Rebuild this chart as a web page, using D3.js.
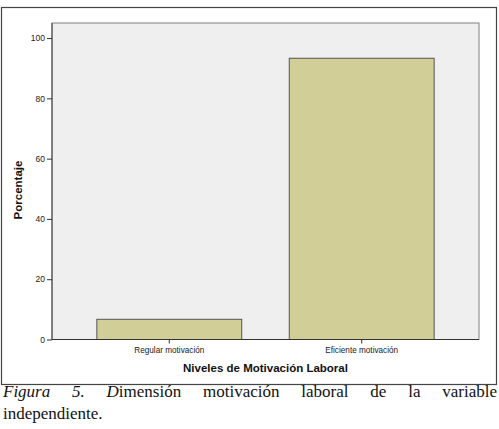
<!DOCTYPE html>
<html>
<head>
<meta charset="utf-8">
<script src="https://cdn.jsdelivr.net/npm/d3@7"></script>
<style>
  html, body { margin: 0; padding: 0; background: #fff; }
  svg { display: block; }
</style>
</head>
<body>
<svg id="chart" width="499" height="429"></svg>
<script>
// ---- data ----
const categories = ["Regular motivación", "Eficiente motivación"];
const values = [6.7, 93.3];
const yTicks = [0, 20, 40, 60, 80, 100];
const xTitle = "Niveles de Motivación Laboral";
const yTitle = "Porcentaje";
const captionWords = [
  [["Figura", true]], [["5.", true]], [["D", true], ["imensión", false]],
  [["motivación", false]], [["laboral", false]], [["de", false]], [["la", false]], [["variable", false]]
];
const captionLine2 = "independiente.";

// ---- layout ----
const svg = d3.select("#chart");
const plot = { left: 52, right: 479, top: 23, bottom: 339.5 };

svg.append("rect").attr("x", 1.5).attr("y", 7.5).attr("width", 495).attr("height", 377)
  .attr("fill", "#fff").attr("stroke", "#444").attr("stroke-width", 1.2);

const x = d3.scaleBand().domain(categories).range([plot.left, plot.right])
  .paddingInner(0.247).paddingOuter(0.233);
const y = d3.scaleLinear().domain([0, 105]).range([plot.bottom, plot.top]);

svg.append("rect").attr("x", plot.left).attr("y", plot.top)
  .attr("width", plot.right - plot.left).attr("height", plot.bottom - plot.top)
  .attr("fill", "#efefef").attr("stroke", "#808080").attr("stroke-width", 1);

svg.selectAll("rect.bar").data(values).join("rect").attr("class", "bar")
  .attr("x", (d, i) => x(categories[i]))
  .attr("y", d => y(d))
  .attr("width", x.bandwidth())
  .attr("height", d => y(0) - y(d))
  .attr("fill", "#d2ce98").attr("stroke", "#555").attr("stroke-width", 1);

// y axis
const yAxis = svg.append("g").attr("transform", `translate(${plot.left},0)`)
  .call(d3.axisLeft(y).tickValues(yTicks).tickSize(5).tickPadding(2).tickFormat(d3.format("d")));
yAxis.select(".domain").attr("d", `M0,${plot.top}V${plot.bottom}`).attr("stroke", "#555").attr("stroke-width", 1.2);
yAxis.selectAll(".tick line").attr("stroke", "#333");
yAxis.selectAll(".tick text").attr("font-family", "Liberation Sans, Arial, sans-serif")
  .attr("font-size", 8.5).attr("fill", "#222");

// x axis
const xAxis = svg.append("g").attr("transform", `translate(0,${plot.bottom})`)
  .call(d3.axisBottom(x).tickSize(4).tickPadding(4));
xAxis.select(".domain").attr("d", `M${plot.left},0H${plot.right}`).attr("stroke", "#333").attr("stroke-width", 1.2);
xAxis.selectAll(".tick line").attr("stroke", "#333");
xAxis.selectAll(".tick text").attr("font-family", "Liberation Sans, Arial, sans-serif")
  .attr("font-size", 8.2).attr("fill", "#222");

// axis titles
svg.append("text").attr("x", 265.5).attr("y", 372).attr("text-anchor", "middle")
  .attr("font-family", "Liberation Sans, Arial, sans-serif").attr("font-weight", "bold")
  .attr("font-size", 11.5).attr("fill", "#111").text(xTitle);
svg.append("text").attr("transform", "translate(22,190) rotate(-90)").attr("text-anchor", "middle")
  .attr("font-family", "Liberation Sans, Arial, sans-serif").attr("font-weight", "bold")
  .attr("font-size", 11.5).attr("fill", "#111").text(yTitle);

// caption (line 1 justified)
const capFont = "Liberation Serif, Times New Roman, serif";
const capSize = 17;
const lineStart = 3, lineEnd = 497;
const wordNodes = captionWords.map(segs => {
  const t = svg.append("text").attr("y", 397).attr("font-family", capFont)
    .attr("font-size", capSize).attr("fill", "#111");
  segs.forEach(([s, it]) => t.append("tspan").attr("font-style", it ? "italic" : "normal").text(s));
  return t;
});
const widths = wordNodes.map(t => t.node().getComputedTextLength());
const total = d3.sum(widths);
const gap = (lineEnd - lineStart - total) / (wordNodes.length - 1);
let cx = lineStart;
wordNodes.forEach((t, i) => { t.attr("x", cx); cx += widths[i] + gap; });

svg.append("text").attr("x", lineStart).attr("y", 419).attr("font-family", capFont)
  .attr("font-size", capSize).attr("fill", "#111").text(captionLine2);
</script>
</body>
</html>
